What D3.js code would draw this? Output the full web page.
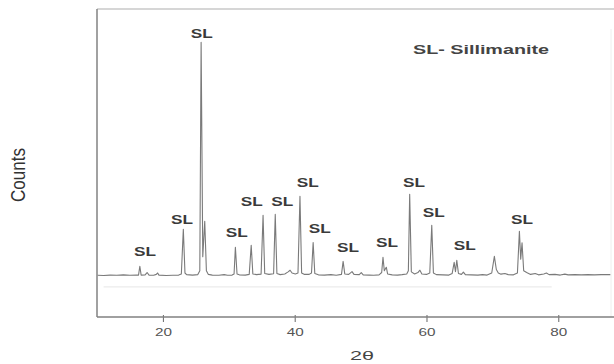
<!DOCTYPE html>
<html>
<head>
<meta charset="utf-8">
<script src="https://cdn.jsdelivr.net/npm/d3@7"></script>
<style>
  html, body { margin: 0; padding: 0; background: #fff; }
  svg { display: block; font-family: "Liberation Sans", Arial, sans-serif; }
</style>
</head>
<body>
<svg id="chart" width="614" height="364"></svg>
<script>
// XRD trace: 2theta (deg) and counts (arbitrary units)
const twoTheta = [10.1, 11, 12, 13, 14, 15, 16, 16.3, 16.5, 16.7, 17.3, 17.6, 17.9, 18.6, 19.0, 19.2, 19.4, 20.5, 21.5, 22.4, 22.8, 23.1, 23.35, 23.6, 24.5, 25.3, 25.6, 25.8, 26.05, 26.35, 26.6, 26.9, 27.5, 28.5, 29.3, 29.8, 30.5, 30.8, 31.0, 31.25, 31.6, 32.5, 33.1, 33.4, 33.65, 34.2, 34.9, 35.2, 35.45, 36.1, 36.8, 37.05, 37.3, 37.8, 38.5, 39.0, 39.3, 39.6, 40.1, 40.5, 40.8, 41.05, 41.5, 42.2, 42.55, 42.8, 43.05, 43.6, 44.5, 45.5, 46.3, 47.1, 47.35, 47.6, 48.2, 48.7, 49.0, 49.8, 50.1, 50.4, 51.3, 52.0, 52.8, 53.2, 53.4, 53.6, 53.9, 54.1, 54.8, 55.6, 56.3, 57.0, 57.25, 57.45, 57.7, 58.2, 58.7, 59.0, 59.3, 60.0, 60.5, 60.8, 61.05, 61.5, 62.5, 63.4, 63.9, 64.2, 64.4, 64.6, 64.85, 65.3, 65.6, 65.9, 66.8, 67.8, 68.5, 69.2, 69.9, 70.3, 70.6, 70.9, 71.3, 71.9, 72.4, 73.2, 73.8, 74.1, 74.3, 74.5, 74.75, 75.2, 75.8, 76.5, 77.0, 77.8, 78.2, 78.6, 79.5, 80.3, 81.0, 81.5, 82.5, 83.5, 84.5, 85.5, 86.5, 87.9];
const counts = [180, 179, 181, 180, 182, 180, 181, 181, 219, 181, 182, 192, 181, 180, 184, 190, 181, 179, 180, 181, 186, 379, 190, 183, 181, 183, 200, 1186, 260, 413, 200, 184, 181, 180, 183, 180, 181, 186, 301, 186, 182, 181, 184, 310, 186, 183, 185, 439, 188, 184, 187, 443, 188, 183, 186, 195, 202, 190, 186, 190, 521, 190, 184, 184, 190, 322, 188, 182, 181, 183, 180, 184, 240, 186, 184, 196, 184, 183, 192, 182, 181, 180, 182, 192, 258, 200, 215, 186, 182, 181, 183, 186, 200, 530, 195, 186, 192, 202, 186, 184, 190, 396, 190, 183, 182, 181, 188, 236, 196, 245, 188, 184, 194, 183, 182, 181, 183, 181, 190, 262, 205, 190, 185, 188, 183, 182, 190, 370, 250, 320, 200, 192, 184, 188, 182, 186, 190, 183, 184, 181, 185, 182, 183, 182, 183, 182, 183, 183];

// faint second trace under the pattern
const faintTheta = [11, 79];
const faintCounts = [130, 130];

// peak labels (position of label centre)
const labelTheta = [17.3, 22.9, 25.9, 31.2, 33.5, 38.1, 42.0, 43.8, 48.1, 54.0, 58.1, 61.1, 65.8, 74.5];
const labelCounts = [281, 423, 1226, 367, 497, 497, 579, 384, 298, 320, 579, 453, 307, 419];
const labelText = "SL";

const xTicks = [20, 40, 60, 80];
const legendText = "SL- Sillimanite";

const svg = d3.select("#chart");
const plotLeft = 97, plotRight = 611, plotTop = 9, plotBottom = 317;

const x = d3.scaleLinear().domain([10, 88]).range([plotLeft, plotRight]);
const y = d3.scaleLinear().domain([0, 1330]).range([plotBottom, plotTop]);

// frame
svg.append("line").attr("x1", plotLeft).attr("x2", 614).attr("y1", plotTop).attr("y2", plotTop)
  .attr("stroke", "#c8c8c8").attr("stroke-width", 1.5);
svg.append("line").attr("x1", plotLeft).attr("x2", plotLeft).attr("y1", plotTop).attr("y2", plotBottom)
  .attr("stroke", "#8a8a8a").attr("stroke-width", 1.6);
svg.append("line").attr("x1", plotRight).attr("x2", plotRight).attr("y1", plotTop + 20).attr("y2", plotBottom)
  .attr("stroke", "#eeeeee").attr("stroke-width", 1);

// bottom axis
const xAxis = d3.axisBottom(x).tickValues(xTicks).tickSize(5).tickPadding(6);
const gx = svg.append("g").attr("transform", `translate(0,${plotBottom})`).call(xAxis);
gx.select(".domain").remove();
gx.append("line").attr("x1", plotLeft).attr("x2", 614).attr("y1", 0).attr("y2", 0)
  .attr("stroke", "#808080").attr("stroke-width", 1.5);
gx.selectAll(".tick line").attr("stroke", "#666").attr("y1", -2);
gx.selectAll(".tick text")
  .attr("fill", "#555").attr("font-size", 11)
  .attr("textLength", 17).attr("lengthAdjust", "spacingAndGlyphs")
  .attr("font-family", "Liberation Sans, Arial, sans-serif");

// faint line
const lineGen = d3.line().x(d => x(d[0])).y(d => y(d[1]));
svg.append("path")
  .datum(faintTheta.map((t, i) => [t, faintCounts[i]]))
  .attr("d", lineGen).attr("fill", "none")
  .attr("stroke", "#e6e6e6").attr("stroke-width", 1);

// diffraction trace
svg.append("path")
  .datum(twoTheta.map((t, i) => [t, counts[i]]))
  .attr("d", lineGen).attr("fill", "none")
  .attr("stroke", "#7a7a7a").attr("stroke-width", 1.1)
  .attr("stroke-linejoin", "round");

// SL labels
svg.append("g").selectAll("text")
  .data(labelTheta.map((t, i) => [t, labelCounts[i]]))
  .enter().append("text")
  .attr("x", d => x(d[0])).attr("y", d => y(d[1]) + 4.5)
  .attr("text-anchor", "middle")
  .attr("font-size", 12).attr("font-weight", "bold").attr("fill", "#3a3a3a")
  .attr("textLength", 22).attr("lengthAdjust", "spacingAndGlyphs")
  .text(labelText);

// legend note
svg.append("text")
  .attr("x", 481).attr("y", 54)
  .attr("text-anchor", "middle")
  .attr("font-size", 12.5).attr("font-weight", "bold").attr("fill", "#444")
  .attr("textLength", 136).attr("lengthAdjust", "spacingAndGlyphs")
  .text(legendText);

// axis titles
svg.append("text")
  .attr("transform", "translate(25,175) rotate(-90) scale(1,1.4)")
  .attr("text-anchor", "middle")
  .attr("font-size", 14).attr("fill", "#333")
  .attr("textLength", 54).attr("lengthAdjust", "spacingAndGlyphs")
  .text("Counts");

svg.append("text")
  .attr("x", 362).attr("y", 360)
  .attr("text-anchor", "middle")
  .attr("font-size", 12).attr("fill", "#444")
  .attr("textLength", 24).attr("lengthAdjust", "spacingAndGlyphs")
  .text("2θ");
</script>
</body>
</html>
